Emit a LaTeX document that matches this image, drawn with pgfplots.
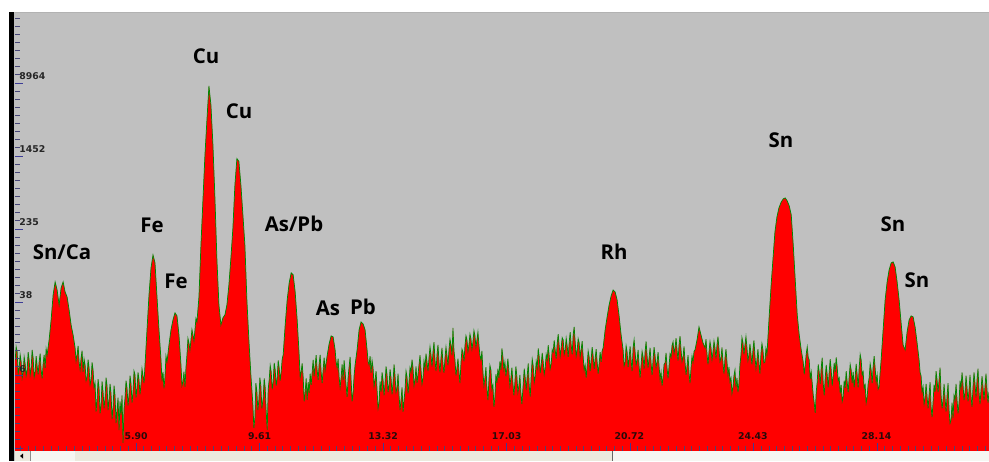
\documentclass[border=0pt]{standalone}
\usepackage{pgfplots}
\pgfplotsset{compat=1.18}
\usepackage{pgfplotstable}
\usepackage{fontspec}
\newfontfamily\labfont{Open Sans}
\newfontfamily\tickfont{DejaVu Sans}
\definecolor{bggray}{RGB}{192,192,192}
\definecolor{specred}{RGB}{255,0,0}
\definecolor{specline}{RGB}{0,135,0}
\definecolor{tickblue}{RGB}{60,60,150}
\definecolor{tickdark}{RGB}{70,70,120}
\definecolor{sbar}{RGB}{236,234,222}
\definecolor{sbarlight}{RGB}{246,246,242}
\newcommand\plab{\labfont\bfseries\fontsize{15.3}{18}\selectfont}
\newcommand\tlab{\tickfont\bfseries\fontsize{7}{8}\selectfont}

\pgfplotstableread[row sep=\\]{
E counts\\
2.27 8.72\\ 2.30 12.1\\ 2.33 10.65\\ 2.36 6.2\\ 2.39 7.14\\ 2.42 9.9\\ 2.45 8.30\\ 2.48 5.6\\ 2.51 6.47\\ 2.54 9.4\\ 2.57 7.89\\ 2.60 5.9\\ 2.63 6.80\\ 2.66 10.6\\ 2.69 8.72\\ 2.72 6.0\\ 2.75 7.14\\ 2.78 11.2\\ 2.81 9.17\\ 2.84 5.7\\
2.87 6.47\\ 2.90 9.6\\ 2.93 7.51\\ 2.96 6.1\\ 2.99 8.30\\ 3.02 10.2\\ 3.05 6.80\\ 3.08 5.5\\ 3.11 7.89\\ 3.14 9.9\\ 3.17 7.14\\ 3.20 11.5\\ 3.23 9.88\\ 3.29 14.37\\ 3.35 23.67\\ 3.41 44.1\\
3.47 61.0\\ 3.53 49.9\\ 3.59 34.4\\ 3.65 52.5\\ 3.71 61.0\\ 3.77 47.5\\ 3.83 41.9\\ 3.89 30.4\\ 3.95 20.89\\ 4.01 16.28\\
4.07 11.77\\ 4.10 8.5\\ 4.13 9.88\\ 4.16 12.4\\ 4.19 8.30\\ 4.22 6.9\\ 4.25 9.17\\ 4.28 11.0\\ 4.31 6.47\\ 4.34 8.9\\ 4.37 7.70\\ 4.40 5.2\\ 4.43 5.71\\ 4.46 8.8\\ 4.49 7.14\\ 4.52 4.7\\ 4.55 5.30\\ 4.58 8.2\\ 4.61 6.80\\ 4.64 4.4\\
4.67 4.92\\ 4.70 2.4\\ 4.73 3.22\\ 4.76 5.4\\ 4.79 4.34\\ 4.82 2.3\\ 4.85 2.84\\ 4.88 5.1\\ 4.91 3.93\\ 4.94 2.6\\ 4.97 3.38\\ 5.00 5.6\\ 5.03 4.56\\ 5.06 2.5\\ 5.09 3.22\\ 5.12 4.8\\ 5.15 3.74\\ 5.18 2.0\\ 5.21 2.64\\ 5.24 4.6\\
5.27 3.55\\ 5.30 1.8\\ 5.33 2.51\\ 5.36 3.4\\ 5.39 1.52\\ 5.42 3.1\\ 5.45 2.21\\ 5.48 3.6\\ 5.51 1.10\\ 5.54 2.6\\ 5.57 3.38\\ 5.60 5.2\\ 5.63 4.34\\ 5.66 2.8\\ 5.69 3.64\\ 5.72 5.9\\ 5.75 4.80\\ 5.78 3.0\\ 5.81 3.93\\ 5.84 6.6\\
5.87 6.00\\ 5.90 3.4\\ 5.93 4.34\\ 5.96 6.4\\ 5.99 5.30\\ 6.02 3.7\\ 6.05 4.80\\ 6.08 7.0\\ 6.11 5.85\\ 6.14 4.9\\ 6.17 7.70\\ 6.23 18.44\\ 6.29 44.1\\ 6.35 86.5\\ 6.41 119.5\\
6.47 97.9\\ 6.53 41.9\\ 6.59 18.44\\ 6.65 8.72\\ 6.68 5.1\\ 6.71 6.47\\ 6.74 4.3\\ 6.77 5.71\\ 6.80 9.6\\ 6.83 8.30\\ 6.89 12.68\\ 6.95 18.44\\ 7.01 23.67\\
7.07 28.18\\ 7.13 26.15\\ 7.19 16.28\\ 7.25 7.70\\ 7.28 4.6\\ 7.31 5.04\\ 7.34 6.5\\ 7.37 4.45\\ 7.40 7.2\\ 7.43 9.88\\ 7.46 14.9\\ 7.49 13.33\\ 7.52 11.2\\ 7.55 14.37\\ 7.58 18.6\\ 7.61 16.28\\ 7.64 14.0\\
7.67 18.44\\ 7.70 24.5\\ 7.73 22.52\\ 7.79 41.9\\ 7.85 153\\ 7.91 471\\ 7.97 1440\\ 8.03 3460\\ 8.09 8076\\ 8.15 5030\\ 8.21 1856\\
8.27 495\\ 8.33 105.6\\ 8.39 34.4\\ 8.45 20.89\\ 8.51 24.88\\ 8.57 26.81\\ 8.63 34.4\\ 8.69 56.6\\ 8.75 111.0\\ 8.81 234\\
8.87 684\\ 8.93 1320\\ 8.99 1230\\ 9.05 684\\ 9.11 324\\ 9.17 153\\ 9.23 38.9\\ 9.29 14.37\\ 9.35 6.00\\ 9.41 2.84\\ 9.44 1.6\\
9.47 2.05\\ 9.50 4.9\\ 9.53 3.93\\ 9.56 2.5\\ 9.59 3.22\\ 9.62 5.6\\ 9.65 4.56\\ 9.68 2.6\\ 9.72 3.38\\ 9.75 5.5\\ 9.78 4.34\\ 9.81 2.4\\ 9.84 1.52\\ 9.87 4.2\\ 9.90 5.30\\ 9.93 7.6\\ 9.96 6.47\\ 9.99 4.2\\ 10.02 5.04\\ 10.05 8.1\\
10.08 6.80\\ 10.11 4.6\\ 10.14 5.57\\ 10.17 8.6\\ 10.20 7.14\\ 10.23 5.2\\ 10.26 6.47\\ 10.29 8.9\\ 10.32 9.88\\ 10.38 20.89\\ 10.44 38.9\\ 10.50 59.5\\ 10.56 76.3\\ 10.62 72.6\\
10.68 47.5\\ 10.74 23.67\\ 10.80 9.88\\ 10.83 5.6\\ 10.86 6.47\\ 10.89 8.0\\ 10.92 5.71\\ 10.95 3.1\\ 10.98 3.93\\ 11.01 5.5\\ 11.04 3.22\\ 11.07 5.0\\ 11.10 3.83\\ 11.13 6.2\\ 11.16 4.68\\ 11.19 6.4\\ 11.22 8.72\\ 11.25 5.8\\
11.28 7.51\\ 11.31 9.8\\ 11.34 6.80\\ 11.37 5.3\\ 11.40 7.89\\ 11.43 9.9\\ 11.46 6.47\\ 11.49 4.9\\ 11.52 6.80\\ 11.55 9.2\\ 11.58 6.80\\ 11.61 8.1\\ 11.64 9.64\\ 11.70 13.00\\ 11.76 15.88\\ 11.82 15.48\\
11.88 11.19\\ 11.91 8.3\\ 11.94 7.14\\ 11.97 9.0\\ 12.00 5.71\\ 12.03 4.4\\ 12.06 5.57\\ 12.09 7.8\\ 12.12 5.30\\ 12.15 8.6\\ 12.18 6.47\\ 12.21 4.6\\ 12.24 3.47\\ 12.27 5.6\\ 12.30 7.32\\ 12.33 9.4\\ 12.36 5.30\\ 12.39 3.1\\ 12.42 3.83\\ 12.45 5.9\\
12.48 7.70\\ 12.54 11.19\\ 12.60 18.44\\ 12.66 22.52\\ 12.72 21.42\\ 12.78 18.44\\ 12.84 11.19\\ 12.87 8.4\\ 12.90 7.70\\ 12.93 9.6\\ 12.96 6.31\\ 12.99 8.6\\ 13.02 7.14\\ 13.05 4.5\\
13.08 5.30\\ 13.11 6.6\\ 13.14 4.13\\ 13.17 2.6\\ 13.20 2.99\\ 13.23 5.1\\ 13.26 3.93\\ 13.29 6.4\\ 13.32 5.30\\ 13.35 3.6\\ 13.38 4.92\\ 13.41 7.4\\ 13.44 6.00\\ 13.47 3.9\\ 13.50 4.68\\ 13.53 6.9\\ 13.56 5.57\\ 13.59 3.7\\ 13.62 4.92\\ 13.65 7.8\\
13.68 5.85\\ 13.71 3.9\\ 13.74 4.34\\ 13.77 6.2\\ 13.80 3.64\\ 13.83 2.5\\ 13.86 3.22\\ 13.89 4.4\\ 13.92 2.39\\ 13.95 3.2\\ 13.98 4.13\\ 14.01 6.6\\ 14.04 5.71\\ 14.07 3.8\\ 14.10 5.04\\ 14.13 7.2\\ 14.16 6.47\\ 14.19 8.8\\ 14.22 7.14\\ 14.25 4.6\\
14.28 5.30\\ 14.31 7.4\\ 14.34 4.92\\ 14.37 6.1\\ 14.40 7.70\\ 14.43 9.8\\ 14.46 6.80\\ 14.49 4.8\\ 14.52 5.57\\ 14.55 8.5\\ 14.58 7.14\\ 14.61 10.2\\ 14.64 8.30\\ 14.67 6.6\\ 14.70 9.17\\ 14.73 12.1\\ 14.76 9.88\\ 14.79 7.4\\ 14.82 10.65\\ 14.85 13.6\\
14.88 8.72\\ 14.91 6.6\\ 14.94 9.88\\ 14.97 12.7\\ 15.00 8.30\\ 15.03 6.4\\ 15.06 9.17\\ 15.09 11.8\\ 15.12 7.89\\ 15.15 6.3\\ 15.18 9.17\\ 15.21 12.0\\ 15.24 9.64\\ 15.27 7.6\\ 15.30 11.19\\ 15.33 14.6\\ 15.36 12.68\\ 15.39 9.8\\ 15.42 19.38\\ 15.45 11.0\\
15.48 8.72\\ 15.51 5.9\\ 15.54 7.14\\ 15.57 9.0\\ 15.60 6.47\\ 15.63 4.9\\ 15.66 8.09\\ 15.69 11.4\\ 15.72 10.65\\ 15.75 8.4\\ 15.78 12.37\\ 15.81 15.9\\ 15.84 14.37\\ 15.87 10.8\\ 15.90 12.68\\ 15.93 16.6\\ 15.96 14.73\\ 15.99 11.4\\ 16.02 13.67\\ 16.05 18.1\\
16.08 15.88\\ 16.11 12.0\\ 16.14 14.37\\ 16.17 17.5\\ 16.20 12.68\\ 16.23 9.7\\ 16.26 8.72\\ 16.29 10.9\\ 16.32 6.47\\ 16.35 4.6\\ 16.38 5.57\\ 16.41 7.3\\ 16.44 4.34\\ 16.47 3.2\\ 16.50 5.30\\ 16.53 7.6\\ 16.56 6.80\\ 16.59 4.2\\ 16.62 4.68\\ 16.65 2.7\\
16.68 3.47\\ 16.71 6.1\\ 16.74 4.92\\ 16.77 7.0\\ 16.80 5.57\\ 16.83 8.4\\ 16.86 6.80\\ 16.89 11.6\\ 16.92 9.40\\ 16.95 6.9\\ 16.98 8.30\\ 17.01 5.8\\ 17.04 7.14\\ 17.07 9.0\\ 17.10 6.47\\ 17.13 4.6\\ 17.16 5.57\\ 17.19 7.2\\ 17.22 4.92\\ 17.25 3.6\\
17.28 5.04\\ 17.31 7.4\\ 17.34 5.71\\ 17.37 3.9\\ 17.40 4.56\\ 17.43 6.0\\ 17.46 3.83\\ 17.49 2.9\\ 17.53 4.80\\ 17.56 7.0\\ 17.59 5.57\\ 17.62 4.1\\ 17.65 5.85\\ 17.68 8.0\\ 17.71 4.56\\ 17.74 3.5\\ 17.77 6.00\\ 17.80 8.9\\ 17.83 7.51\\ 17.86 5.0\\
17.89 5.85\\ 17.92 8.4\\ 17.95 7.14\\ 17.98 11.6\\ 18.01 9.40\\ 18.04 6.3\\ 18.07 7.70\\ 18.10 10.4\\ 18.13 8.30\\ 18.16 6.1\\ 18.19 7.14\\ 18.22 10.0\\ 18.25 8.72\\ 18.28 12.6\\ 18.31 9.64\\ 18.34 7.0\\ 18.37 7.89\\ 18.40 11.3\\ 18.43 10.65\\ 18.46 14.2\\
18.49 11.19\\ 18.52 9.0\\ 18.55 13.00\\ 18.58 16.6\\ 18.61 12.37\\ 18.64 9.6\\ 18.67 11.77\\ 18.70 15.2\\ 18.73 14.37\\ 18.76 10.0\\ 18.79 11.19\\ 18.82 15.0\\ 18.85 12.37\\ 18.88 9.4\\ 18.91 13.33\\ 18.94 17.4\\ 18.97 12.68\\ 19.00 10.0\\ 19.03 16.28\\ 19.06 19.9\\
19.09 13.67\\ 19.12 9.6\\ 19.15 11.19\\ 19.18 14.8\\ 19.21 13.33\\ 19.24 9.4\\ 19.27 11.19\\ 19.30 13.9\\ 19.33 9.40\\ 19.36 6.8\\ 19.39 7.70\\ 19.42 5.6\\ 19.45 7.51\\ 19.48 10.9\\ 19.51 9.40\\ 19.54 6.6\\ 19.57 8.72\\ 19.60 12.0\\ 19.63 9.64\\ 19.66 7.0\\
19.69 8.94\\ 19.72 11.4\\ 19.75 8.30\\ 19.78 6.2\\ 19.81 7.89\\ 19.84 10.6\\ 19.87 8.30\\ 19.90 10.9\\ 19.93 11.77\\ 19.99 18.44\\ 20.05 25.51\\ 20.11 34.4\\ 20.17 43.0\\ 20.23 49.9\\
20.29 47.5\\ 20.35 38.9\\ 20.41 26.15\\ 20.47 16.28\\ 20.53 11.19\\ 20.56 7.5\\ 20.59 8.30\\ 20.62 12.4\\ 20.65 10.65\\ 20.68 7.3\\ 20.71 9.17\\ 20.74 12.2\\ 20.77 8.72\\ 20.80 6.6\\ 20.83 11.77\\ 20.86 14.4\\
20.89 10.65\\ 20.92 7.7\\ 20.95 8.72\\ 20.98 11.2\\ 21.01 7.51\\ 21.04 5.6\\ 21.07 7.70\\ 21.10 10.8\\ 21.13 9.40\\ 21.16 7.0\\ 21.19 10.65\\ 21.22 13.8\\ 21.25 9.64\\ 21.28 7.2\\ 21.31 9.17\\ 21.34 11.8\\ 21.37 8.09\\ 21.40 6.0\\ 21.43 8.72\\ 21.46 12.0\\
21.49 9.64\\ 21.52 7.2\\ 21.55 8.30\\ 21.58 10.6\\ 21.61 7.51\\ 21.64 5.4\\ 21.67 6.47\\ 21.70 4.6\\ 21.73 5.71\\ 21.76 7.8\\ 21.79 8.09\\ 21.82 10.4\\ 21.85 7.14\\ 21.88 5.5\\ 21.91 7.51\\ 21.94 10.2\\ 21.97 9.40\\ 22.00 12.5\\ 22.03 13.67\\ 22.06 10.2\\
22.09 11.77\\ 22.12 15.0\\ 22.15 11.19\\ 22.18 8.6\\ 22.21 12.68\\ 22.24 15.8\\ 22.27 11.19\\ 22.30 8.4\\ 22.33 9.40\\ 22.36 12.2\\ 22.39 8.30\\ 22.42 6.0\\ 22.45 7.51\\ 22.48 9.8\\ 22.51 6.31\\ 22.54 4.9\\ 22.57 7.14\\ 22.60 9.6\\ 22.63 8.30\\ 22.66 10.8\\
22.69 11.19\\ 22.75 14.37\\ 22.81 19.87\\ 22.87 16.28\\ 22.93 13.33\\ 22.99 11.77\\ 23.02 14.6\\ 23.05 10.13\\ 23.08 7.8\\ 23.11 10.65\\ 23.14 13.8\\ 23.17 11.77\\ 23.20 8.8\\ 23.23 10.65\\ 23.26 13.9\\
23.29 11.77\\ 23.32 9.0\\ 23.35 12.68\\ 23.38 15.6\\ 23.41 11.19\\ 23.44 8.4\\ 23.47 9.17\\ 23.50 11.9\\ 23.53 8.09\\ 23.56 6.2\\ 23.59 9.17\\ 23.62 11.4\\ 23.65 8.30\\ 23.68 6.0\\ 23.71 7.32\\ 23.74 5.1\\ 23.77 5.57\\ 23.80 3.8\\ 23.83 4.45\\ 23.86 5.9\\
23.89 6.80\\ 23.92 4.4\\ 23.95 5.57\\ 23.98 3.9\\ 24.01 4.92\\ 24.04 7.8\\ 24.07 9.88\\ 24.10 15.2\\ 24.13 13.33\\ 24.16 10.0\\ 24.19 12.68\\ 24.22 15.6\\ 24.25 11.77\\ 24.28 8.6\\ 24.31 9.88\\ 24.34 13.0\\ 24.37 10.13\\ 24.40 7.8\\ 24.43 11.19\\ 24.46 14.2\\
24.49 9.64\\ 24.52 7.1\\ 24.55 8.72\\ 24.58 11.4\\ 24.61 8.09\\ 24.64 6.2\\ 24.67 10.13\\ 24.70 13.1\\ 24.73 11.19\\ 24.76 8.1\\ 24.79 8.30\\ 24.82 11.6\\ 24.85 9.88\\ 24.92 26.81\\ 24.98 59.5\\ 25.04 119.5\\
25.09 212\\ 25.15 308\\ 25.21 386\\ 25.28 448\\ 25.34 483\\ 25.40 495\\ 25.46 459\\ 25.52 406\\ 25.58 324\\ 25.64 153\\
25.70 64.1\\ 25.76 26.81\\ 25.82 16.28\\ 25.88 11.19\\ 25.94 8.30\\ 25.97 6.1\\ 26.00 7.70\\ 26.03 10.1\\ 26.06 12.06\\ 26.09 9.3\\ 26.12 8.72\\ 26.15 5.4\\ 26.18 6.47\\ 26.21 4.9\\ 26.24 3.64\\ 26.27 3.0\\
26.30 2.33\\ 26.33 3.9\\ 26.36 5.04\\ 26.39 7.8\\ 26.42 6.47\\ 26.45 4.8\\ 26.48 7.14\\ 26.51 9.2\\ 26.54 4.92\\ 26.57 3.6\\ 26.60 5.57\\ 26.63 7.7\\ 26.66 6.00\\ 26.69 4.4\\ 26.72 6.47\\ 26.75 8.9\\ 26.78 6.80\\ 26.81 4.6\\ 26.84 5.85\\ 26.87 8.1\\
26.90 6.47\\ 26.93 9.3\\ 26.96 7.32\\ 26.99 5.2\\ 27.02 5.57\\ 27.05 3.8\\ 27.08 4.68\\ 27.11 3.1\\ 27.14 3.47\\ 27.17 5.2\\ 27.20 4.34\\ 27.23 6.6\\ 27.26 5.04\\ 27.29 3.9\\ 27.32 5.71\\ 27.35 7.8\\ 27.38 6.80\\ 27.41 4.9\\ 27.44 6.47\\ 27.47 4.4\\
27.50 5.71\\ 27.53 7.9\\ 27.56 6.00\\ 27.59 4.4\\ 27.62 7.14\\ 27.65 10.0\\ 27.68 8.72\\ 27.71 6.0\\ 27.74 6.47\\ 27.77 4.3\\ 27.80 4.68\\ 27.83 3.0\\ 27.86 3.47\\ 27.89 4.8\\ 27.92 5.57\\ 27.95 7.9\\ 27.98 6.80\\ 28.01 4.9\\ 28.04 7.32\\ 28.07 9.6\\
28.10 7.14\\ 28.13 5.0\\ 28.16 6.00\\ 28.19 4.2\\ 28.22 4.45\\ 28.25 6.4\\ 28.28 8.72\\ 28.34 18.44\\ 28.40 38.9\\ 28.46 61.0\\ 28.52 82.2\\ 28.58 97.9\\ 28.64 100.4\\
28.70 88.6\\ 28.76 61.0\\ 28.82 38.9\\ 28.88 21.96\\ 28.94 12.68\\ 29.00 11.19\\ 29.06 17.54\\ 29.12 23.67\\ 29.18 26.15\\ 29.24 25.51\\
29.30 19.87\\ 29.36 13.33\\ 29.42 8.72\\ 29.45 6.4\\ 29.48 5.85\\ 29.51 3.9\\ 29.54 4.45\\ 29.57 2.9\\ 29.60 3.38\\ 29.63 4.8\\ 29.66 3.47\\ 29.69 2.6\\ 29.72 3.64\\ 29.75 5.0\\ 29.78 2.70\\ 29.81 2.1\\ 29.84 3.06\\ 29.87 4.7\\
29.90 3.93\\ 29.93 6.6\\ 29.96 5.30\\ 29.99 3.9\\ 30.02 5.30\\ 30.05 7.2\\ 30.08 3.64\\ 30.11 2.6\\ 30.14 3.22\\ 30.17 4.8\\ 30.20 3.38\\ 30.23 2.4\\ 30.26 3.55\\ 30.29 4.9\\ 30.32 2.51\\ 30.35 1.8\\ 30.38 1.95\\ 30.41 3.0\\ 30.44 2.05\\ 30.47 3.6\\
30.50 3.22\\ 30.53 4.8\\ 30.56 3.22\\ 30.59 2.3\\ 30.62 2.99\\ 30.65 5.2\\ 30.68 4.34\\ 30.71 6.4\\ 30.74 4.68\\ 30.77 3.2\\ 30.80 3.93\\ 30.83 5.9\\ 30.86 4.34\\ 30.89 3.1\\ 30.92 4.13\\ 30.95 6.0\\ 30.98 3.55\\ 31.01 2.7\\ 31.04 4.45\\ 31.07 6.4\\
31.10 4.80\\ 31.13 3.4\\ 31.16 5.30\\ 31.19 7.0\\ 31.22 3.93\\ 31.25 2.9\\ 31.28 4.13\\ 31.31 5.8\\ 31.34 4.45\\ 31.37 3.2\\ 31.40 4.56\\ 31.43 6.2\\ 31.46 4.13\\ 31.49 3.0\\ 31.52 3.93\\
}\spec

\begin{document}
\begin{tikzpicture}
\path[use as bounding box, fill=white] (0,0) rectangle (741.75pt,-345.75pt);
\begin{axis}[
  at={(11.25pt,-338.25pt)}, anchor=south west,
  scale only axis, width=730.5pt, height=329.25pt,
  xmin=2.265, xmax=31.52,
  ymode=log, ymin=0.9, ymax=51000,
  log origin y=infty,
  axis on top,
  axis line style={draw=none},
  tick style={draw=none},
  major tick length=0pt,
  axis background/.style={fill=bggray},
  xtick={5.90,9.61,13.32,17.03,20.72,24.43,28.14},
  xticklabels={5.90,9.61,13.32,17.03,20.72,24.43,28.14},
  ytick={6,38,235,1452,8964},
  yticklabels={6,38,235,1452,8964},
  minor xtick={}, minor ytick={},
  xticklabel style={font=\tlab, text={rgb,255:red,40;green,10;blue,10}, anchor=south, inner sep=0pt, yshift=8.25pt},
  yticklabel style={font=\tlab, text=black!85, anchor=south west, inner sep=0pt, xshift=3pt, yshift=1.5pt},
  clip=true,
]
\addplot[fill=specred, draw=none, mark=none] table[x=E,y=counts]{\spec} \closedcycle;
\addplot[specline, line width=0.55pt, mark=none] table[x=E,y=counts]{\spec};
\end{axis}
\begin{scope}[x=0.75pt,y=-0.75pt]
  % top edge line
  \draw[black!30, line width=0.75pt] (15,12.5) -- (989,12.5);
  % ticks
  \begin{scope}
    \clip (15,12) rectangle (989,451);
    \foreach \i in {-9,...,45} {
      \draw[tickdark, line width=0.6pt] (15,{83+8.111*\i}) -- (20,{83+8.111*\i});
    }
    \foreach \i in {-1,...,5} {
      \draw[tickblue, line width=0.75pt] (15,{83+73*\i}) -- (23,{83+73*\i});
    }
    \foreach \i in {-16,...,110} {
      \draw[tickdark, line width=0.6pt] ({136+7.719*\i},451) -- ({136+7.719*\i},446);
    }
    \foreach \i in {-1,...,7} {
      \draw[tickblue, line width=0.75pt] ({136+123.5*\i},451) -- ({136+123.5*\i},443);
    }
  \end{scope}
  % black left bar
  \fill[black] (9,12) rectangle (14.3,461);
  \fill[black!25] (14.3,12) rectangle (15,461);
  % scrollbar
  \fill[sbar] (15,451) rectangle (989,461);
  \fill[sbarlight] (31,451) rectangle (75,461);
  \fill[sbarlight] (612,451) rectangle (989,461);
  \draw[black!45, line width=0.6pt] (30.5,451) -- (30.5,461);
  \draw[black!60, line width=0.75pt] (612,451) -- (612,461);
  \fill[black] (20,456) -- (23,453.5) -- (23,458.5) -- cycle;
  % peak labels
  \node[anchor=base, font=\plab, inner sep=0pt] at (62,259) {Sn/Ca};
  \node[anchor=base, font=\plab, inner sep=0pt] at (152,232) {Fe};
  \node[anchor=base, font=\plab, inner sep=0pt] at (176,288) {Fe};
  \node[anchor=base, font=\plab, inner sep=0pt] at (206,63) {Cu};
  \node[anchor=base, font=\plab, inner sep=0pt] at (239,118) {Cu};
  \node[anchor=base, font=\plab, inner sep=0pt] at (294,231) {As/Pb};
  \node[anchor=base, font=\plab, inner sep=0pt] at (328,315) {As};
  \node[anchor=base, font=\plab, inner sep=0pt] at (363,314) {Pb};
  \node[anchor=base, font=\plab, inner sep=0pt] at (614,259) {Rh};
  \node[anchor=base, font=\plab, inner sep=0pt] at (781,147) {Sn};
  \node[anchor=base, font=\plab, inner sep=0pt] at (893,231) {Sn};
  \node[anchor=base, font=\plab, inner sep=0pt] at (917,287) {Sn};
\end{scope}
\end{tikzpicture}
\end{document}
